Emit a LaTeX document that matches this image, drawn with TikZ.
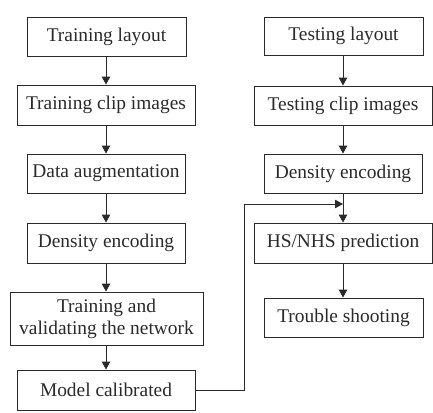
\documentclass[tikz,border=0pt]{standalone}
\usepackage{fontspec}
\setmainfont{Liberation Serif}
\usetikzlibrary{arrows.meta}
\definecolor{ink}{HTML}{2A2A2A}
\begin{document}
\begin{tikzpicture}[x=1pt,y=-1pt,
  stepbox/.style={draw=ink,line width=0.9pt,text=ink,inner sep=0pt,
    align=center,font=\fontsize{19.4}{22}\selectfont},
  flow/.style={draw=ink,line width=0.9pt,-{Triangle[length=8pt,width=8.5pt]}}]
\useasboundingbox (0,0) rectangle (433,412);
% training branch
\node[stepbox,minimum width=159pt,minimum height=39pt] (tl)  at (106.5,36.5) {Training layout};
\node[stepbox,minimum width=178pt,minimum height=40pt] (tci) at (106,105) {Training clip images};
\node[stepbox,minimum width=158pt,minimum height=39pt] (da)  at (106,173.5) {Data augmentation};
\node[stepbox,minimum width=158pt,minimum height=40pt] (de)  at (106,243) {Density encoding};
\node[stepbox,minimum width=193pt,minimum height=53pt] (tv)  at (106.5,318.5) {Training and\\validating the network};
\node[stepbox,minimum width=178pt,minimum height=40pt] (mc)  at (106,390) {Model calibrated};
% testing branch
\node[stepbox,minimum width=159pt,minimum height=38pt] (xl)  at (343.5,36) {Testing layout};
\node[stepbox,minimum width=178pt,minimum height=39pt] (xci) at (343,105.5) {Testing clip images};
\node[stepbox,minimum width=158pt,minimum height=39pt] (xde) at (343,173.5) {Density encoding};
\node[stepbox,minimum width=178pt,minimum height=40pt] (hs)  at (343,243) {HS/NHS prediction};
\node[stepbox,minimum width=159pt,minimum height=39pt] (ts)  at (343.5,317.5) {Trouble shooting};
% vertical flow of each branch
\draw[flow] (tl.south -| tci) -- (tci.north);
\draw[flow] (tci.south) -- (da.north -| tci);
\draw[flow] (da.south -| tci) -- (de.north -| tci);
\draw[flow] (de.south -| tci) -- (tv.north -| tci);
\draw[flow] (tv.south -| tci) -- (mc.north -| tci);
\draw[flow] (xl.south -| xci) -- (xci.north);
\draw[flow] (xci.south) -- (xde.north -| xci);
\draw[flow] (xde.south -| xci) -- (hs.north);
\draw[flow] (hs.south) -- (ts.north -| hs);
% calibrated model feeds the prediction step
\coordinate (join) at (343,204);
\coordinate (bend) at (244,204);
\draw[flow] (mc.east) -| (bend) -- (join);
\end{tikzpicture}
\end{document}
